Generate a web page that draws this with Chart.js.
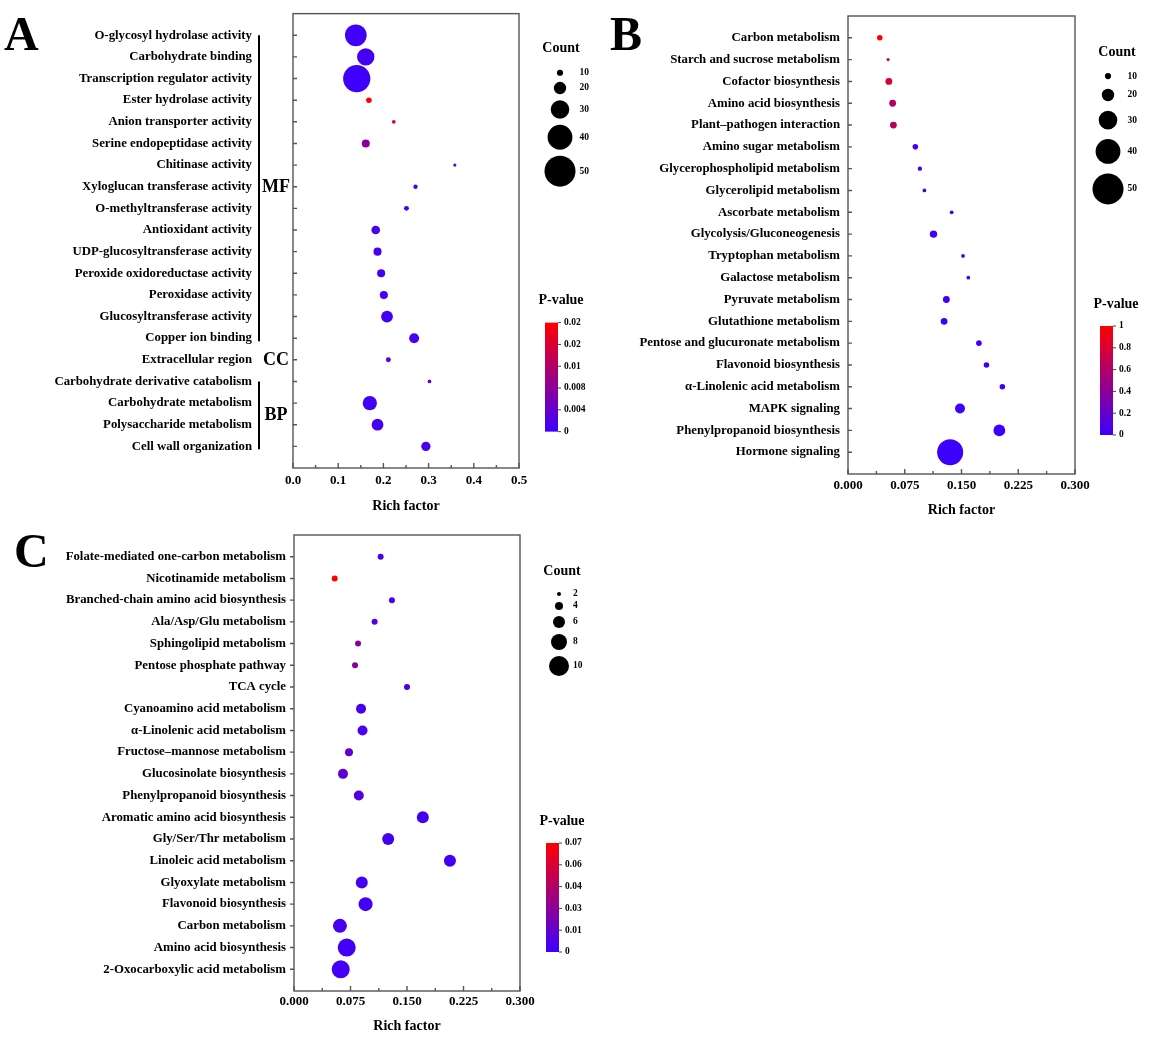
<!DOCTYPE html>
<html>
<head>
<meta charset="utf-8">
<title>GO / KEGG enrichment bubble charts</title>
<script src="https://cdn.jsdelivr.net/npm/chart.js@4.4.1/dist/chart.umd.min.js"></script>
<style>
    html, body { margin: 0; padding: 0; background: #fff; }
    body { width: 1152px; height: 1041px; position: relative; overflow: hidden; }
    .panel { position: absolute; }
</style>
</head>
<body>
<div class="panel" style="left:0;top:0;"><canvas id="chartA" width="600" height="520"></canvas></div>
<div class="panel" style="left:600px;top:0;"><canvas id="chartB" width="552" height="525"></canvas></div>
<div class="panel" style="left:0;top:520px;"><canvas id="chartC" width="600" height="521"></canvas></div>

<script>
// ========== DATA ==========
// Panel A (GO terms)
const termsA = ['O-glycosyl hydrolase activity', 'Carbohydrate binding', 'Transcription regulator activity',
    'Ester hydrolase activity', 'Anion transporter activity', 'Serine endopeptidase activity', 'Chitinase activity',
    'Xyloglucan transferase activity', 'O-methyltransferase activity', 'Antioxidant activity',
    'UDP-glucosyltransferase activity', 'Peroxide oxidoreductase activity', 'Peroxidase activity',
    'Glucosyltransferase activity', 'Copper ion binding', 'Extracellular region',
    'Carbohydrate derivative catabolism', 'Carbohydrate metabolism', 'Polysaccharide metabolism',
    'Cell wall organization'];
const richA  = [0.139, 0.161, 0.141, 0.168, 0.223, 0.161, 0.358, 0.271, 0.251, 0.183,
                0.187, 0.195, 0.201, 0.208, 0.268, 0.211, 0.302, 0.170, 0.187, 0.294];
const countA = [35, 28, 44, 9, 6, 13, 5, 7, 8, 14, 13, 13, 13, 19, 16, 8, 6, 23, 19, 15];
const pvalA  = [0.0005, 0.0008, 0.0003, 0.02, 0.016, 0.008, 0.002, 0.0015, 0.001, 0.001,
                0.001, 0.0008, 0.0008, 0.0005, 0.001, 0.003, 0.005, 0.0005, 0.0008, 0.001];
const groupsA = [
    { name: 'MF', from: 1, to: 15 },
    { name: 'CC', from: 16, to: 16 },
    { name: 'BP', from: 17, to: 20 }
];
const countLegendA = [10, 20, 30, 40, 50];
const pTicksA = ['0', '0.004', '0.008', '0.01', '0.02', '0.02'];
const pMaxA = 0.02;

// Panel B (KEGG pathways)
const termsB = ['Carbon metabolism', 'Starch and sucrose metabolism', 'Cofactor biosynthesis',
    'Amino acid biosynthesis', 'Plant–pathogen interaction', 'Amino sugar metabolism',
    'Glycerophospholipid metabolism', 'Glycerolipid metabolism', 'Ascorbate metabolism',
    'Glycolysis/Gluconeogenesis', 'Tryptophan metabolism', 'Galactose metabolism', 'Pyruvate metabolism',
    'Glutathione metabolism', 'Pentose and glucuronate metabolism', 'Flavonoid biosynthesis',
    'α-Linolenic acid metabolism', 'MAPK signaling', 'Phenylpropanoid biosynthesis', 'Hormone signaling'];
const richB  = [0.042, 0.053, 0.054, 0.059, 0.060, 0.089, 0.095, 0.101, 0.137, 0.113,
                0.152, 0.159, 0.130, 0.127, 0.173, 0.183, 0.204, 0.148, 0.200, 0.135];
const countB = [9, 5, 11, 11, 11, 9, 7, 6, 6, 12, 6, 6, 11, 11, 9, 9, 9, 16, 19, 42];
const pvalB  = [1.0, 0.85, 0.8, 0.62, 0.62, 0.06, 0.04, 0.03, 0.02, 0.02,
                0.02, 0.02, 0.01, 0.01, 0.01, 0.01, 0.01, 0.005, 0.002, 0.0001];
const countLegendB = [10, 20, 30, 40, 50];
const pTicksB = ['0', '0.2', '0.4', '0.6', '0.8', '1'];
const pMaxB = 1;

// Panel C (KEGG pathways)
const termsC = ['Folate-mediated one-carbon metabolism', 'Nicotinamide metabolism',
    'Branched-chain amino acid biosynthesis', 'Ala/Asp/Glu metabolism', 'Sphingolipid metabolism',
    'Pentose phosphate pathway', 'TCA cycle', 'Cyanoamino acid metabolism', 'α-Linolenic acid metabolism',
    'Fructose–mannose metabolism', 'Glucosinolate biosynthesis', 'Phenylpropanoid biosynthesis',
    'Aromatic amino acid biosynthesis', 'Gly/Ser/Thr metabolism', 'Linoleic acid metabolism',
    'Glyoxylate metabolism', 'Flavonoid biosynthesis', 'Carbon metabolism', 'Amino acid biosynthesis',
    '2-Oxocarboxylic acid metabolism'];
const richC  = [0.115, 0.054, 0.130, 0.107, 0.085, 0.081, 0.150, 0.089, 0.091, 0.073,
                0.065, 0.086, 0.171, 0.125, 0.207, 0.090, 0.095, 0.061, 0.070, 0.062];
const countC = [3, 3, 3, 3, 3, 3, 3, 5, 5, 4, 5, 5, 6, 6, 6, 6, 7, 7, 9, 9];
const pvalC  = [0.006, 0.07, 0.005, 0.008, 0.028, 0.028, 0.004, 0.004, 0.004, 0.014,
                0.012, 0.008, 0.003, 0.003, 0.002, 0.003, 0.002, 0.004, 0.002, 0.002];
const countLegendC = [2, 4, 6, 8, 10];
const pTicksC = ['0', '0.01', '0.03', '0.04', '0.06', '0.07'];
const pMaxC = 0.07;

const SERIF = '"Liberation Serif", "Times New Roman", serif';

// blue (low p) -> red (high p)
function pColor(p, pMax) {
    const t = Math.max(0, Math.min(1, p / pMax));
    const r = Math.round(60 + (255 - 60) * t);
    const b = Math.round(255 * (1 - t));
    return `rgb(${r},0,${b})`;
}

// Frame, inward ticks, panel letter, group brackets, size legend and colour bar
const decor = {
    id: 'decor',
    afterDraw(chart, args, o) {
        const ctx = chart.ctx;
        const a = chart.chartArea;
        const xs = chart.scales.x;
        const ys = chart.scales.y;
        ctx.save();

        // frame
        ctx.strokeStyle = '#555';
        ctx.lineWidth = 1.4;
        ctx.strokeRect(a.left, a.top, a.right - a.left, a.bottom - a.top);

        // ticks
        ctx.beginPath();
        const xt = xs.ticks.map(t => t.value);
        xt.forEach((v, i) => {
            const px = xs.getPixelForValue(v);
            ctx.moveTo(px, a.bottom);
            ctx.lineTo(px, a.bottom - 5);
            if (i < xt.length - 1) {
                const mx = xs.getPixelForValue((v + xt[i + 1]) / 2);
                ctx.moveTo(mx, a.bottom);
                ctx.lineTo(mx, a.bottom - 3);
            }
        });
        ys.ticks.forEach(t => {
            const py = ys.getPixelForValue(t.value);
            if (o.yTickOut) {
                ctx.moveTo(a.left - 4, py);
                ctx.lineTo(a.left, py);
            } else {
                ctx.moveTo(a.left, py);
                ctx.lineTo(a.left + 4, py);
            }
        });
        ctx.stroke();

        // panel letter
        ctx.fillStyle = '#000';
        ctx.font = `bold 48px ${SERIF}`;
        ctx.textAlign = 'left';
        ctx.textBaseline = 'alphabetic';
        ctx.fillText(o.letter, o.letterX, o.letterY);

        // GO group brackets (panel A)
        if (o.groups) {
            ctx.strokeStyle = '#000';
            ctx.lineWidth = 2;
            ctx.font = `bold 18px ${SERIF}`;
            ctx.textAlign = 'center';
            ctx.textBaseline = 'middle';
            o.groups.forEach(g => {
                const y1 = ys.getPixelForValue(g.from);
                const y2 = ys.getPixelForValue(g.to);
                if (g.to > g.from) {
                    ctx.beginPath();
                    ctx.moveTo(a.left - 34, y1);
                    ctx.lineTo(a.left - 34, y2 + 3);
                    ctx.stroke();
                }
                ctx.fillText(g.name, a.left - 17, (y1 + y2) / 2 + 1);
            });
        }

        // Count legend
        const cx = a.right + o.legendDx;
        const titleY = a.top + o.countTitleDy;
        ctx.fillStyle = '#000';
        ctx.font = `bold 14px ${SERIF}`;
        ctx.textAlign = 'center';
        ctx.textBaseline = 'middle';
        ctx.fillText('Count', cx + o.countTitleDx, titleY);
        const maxR = o.k * Math.max(...o.countLegend);
        let y = titleY + 21;
        ctx.font = `bold 9.5px ${SERIF}`;
        ctx.textAlign = 'left';
        o.countLegend.forEach(c => {
            const r = c * o.k;
            const cy = y + r;
            ctx.beginPath();
            ctx.arc(cx, cy, r, 0, Math.PI * 2);
            ctx.fill();
            ctx.fillText(String(c), cx + maxR + 4, cy);
            y = cy + r + o.countGap;
        });

        // P-value colour bar
        const bx = a.right + o.barDx;
        const by = a.top + o.barDy;
        const bw = 13, bh = 109;
        const grad = ctx.createLinearGradient(0, by + bh, 0, by);
        [0, 0.25, 0.5, 0.75, 1].forEach(s => grad.addColorStop(s, pColor(s, 1)));
        ctx.fillStyle = grad;
        ctx.fillRect(bx, by, bw, bh);
        ctx.fillStyle = '#000';
        ctx.font = `bold 14px ${SERIF}`;
        ctx.textAlign = 'center';
        ctx.fillText('P-value', bx + 16, by - 22);
        ctx.font = `bold 9.5px ${SERIF}`;
        ctx.textAlign = 'left';
        ctx.strokeStyle = '#444';
        ctx.lineWidth = 1;
        const nT = o.pTicks.length - 1;
        o.pTicks.forEach((lab, i) => {
            const ty = by + bh - i * bh / nT;
            ctx.beginPath();
            ctx.moveTo(bx + bw, ty);
            ctx.lineTo(bx + bw + 3, ty);
            ctx.stroke();
            ctx.fillText(lab, bx + bw + 6, ty);
        });

        ctx.restore();
    }
};

function makePanel(id, cfg, terms, rich, count, pval, pMax, countLegend, pTicks, groups) {
    const n = terms.length;
    return new Chart(document.getElementById(id), {
        type: 'bubble',
        data: {
            datasets: [{
                data: terms.map((t, i) => ({ x: rich[i], y: i + 1, r: count[i] * cfg.k })),
                backgroundColor: pval.map(p => pColor(p, pMax)),
                borderWidth: 0,
                hoverRadius: 0,
                hoverBorderWidth: 0
            }]
        },
        options: {
            responsive: false,
            animation: false,
            events: [],
            layout: { padding: { top: cfg.padTop, right: cfg.padRight, left: 0, bottom: 0 } },
            plugins: {
                legend: { display: false },
                tooltip: { enabled: false },
                decor: {
                    letter: cfg.letter, letterX: cfg.letterX, letterY: cfg.letterY,
                    yTickOut: cfg.yTickOut, groups: groups,
                    k: cfg.k, countLegend: countLegend, legendDx: cfg.legendDx,
                    countTitleDx: cfg.countTitleDx, countTitleDy: cfg.countTitleDy, countGap: cfg.countGap,
                    pTicks: pTicks, barDx: cfg.barDx, barDy: cfg.barDy
                }
            },
            scales: {
                x: {
                    type: 'linear',
                    min: 0,
                    max: cfg.xMax,
                    grid: { display: false, drawTicks: false },
                    border: { display: false },
                    ticks: {
                        stepSize: cfg.xStep,
                        padding: cfg.xPad,
                        color: '#000',
                        font: { family: SERIF, weight: 'bold', size: 13 },
                        callback: v => Number(v).toFixed(cfg.decimals)
                    },
                    title: {
                        display: true,
                        text: 'Rich factor',
                        color: '#000',
                        font: { family: SERIF, weight: 'bold', size: 14 },
                        padding: { top: 0, bottom: cfg.titlePad }
                    },
                    afterFit: s => { s.height = cfg.xHeight; s.paddingLeft = 0; s.paddingRight = 0; }
                },
                y: {
                    type: 'linear',
                    reverse: true,
                    min: 0,
                    max: n + 1,
                    grid: { display: false, drawTicks: false },
                    border: { display: false },
                    ticks: {
                        stepSize: 1,
                        autoSkip: false,
                        padding: cfg.yPad,
                        color: '#000',
                        font: { family: SERIF, weight: 'bold', size: 12.8 },
                        callback: v => terms[v - 1] || ''
                    },
                    afterBuildTicks: s => { s.ticks = s.ticks.filter(t => t.value >= 1 && t.value <= n); },
                    afterFit: s => { s.width = cfg.yWidth; s.paddingTop = 0; s.paddingBottom = 0; }
                }
            }
        },
        plugins: [decor]
    });
}

makePanel('chartA', {
    padTop: 12, padRight: 81, yWidth: 293, xHeight: 52, yPad: 41, xPad: 5, titlePad: 5.6,
    xMax: 0.5, xStep: 0.1, decimals: 1, yTickOut: false, k: 0.31,
    letter: 'A', letterX: 4, letterY: 50,
    legendDx: 41, countTitleDx: 1, countTitleDy: 35, countGap: 6, barDx: 26, barDy: 309
}, termsA, richA, countA, pvalA, pMaxA, countLegendA, pTicksA, groupsA);

makePanel('chartB', {
    padTop: 16, padRight: 77, yWidth: 248, xHeight: 51, yPad: 8, xPad: 4.2, titlePad: 6.6,
    xMax: 0.3, xStep: 0.075, decimals: 3, yTickOut: false, k: 0.31,
    letter: 'B', letterX: 10, letterY: 50,
    legendDx: 33, countTitleDx: 9, countTitleDy: 36, countGap: 9.6, barDx: 25, barDy: 310
}, termsB, richB, countB, pvalB, pMaxB, countLegendB, pTicksB, null);

makePanel('chartC', {
    padTop: 15, padRight: 80, yWidth: 294, xHeight: 50, yPad: 8, xPad: 3.2, titlePad: 5.9,
    xMax: 0.3, xStep: 0.075, decimals: 3, yTickOut: true, k: 1,
    letter: 'C', letterX: 14, letterY: 47,
    legendDx: 39, countTitleDx: 3, countTitleDy: 36, countGap: 6, barDx: 26, barDy: 308
}, termsC, richC, countC, pvalC, pMaxC, countLegendC, pTicksC, null);
</script>
</body>
</html>
